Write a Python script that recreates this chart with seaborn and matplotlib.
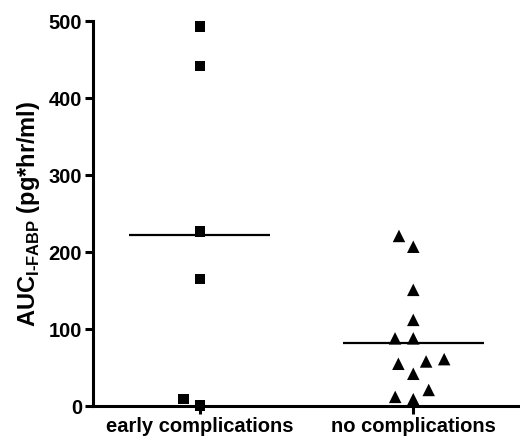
import numpy as np
import pandas as pd
import matplotlib as mpl
mpl.use('Agg')
import matplotlib.pyplot as plt
import seaborn as sns

# values
groups = ['early complications', 'no complications']
early = [493, 442, 227, 165, 1, 9]
no_comp = [221, 207, 151, 112, 88, 88, 61, 55, 58, 42, 21, 12, 9]
group_means = [222, 82]

sns.set_style('ticks')
plt.rcParams['font.family'] = ['Liberation Sans', 'DejaVu Sans']
plt.rcParams['font.weight'] = 'bold'
plt.rcParams['text.color'] = 'black'
plt.rcParams['axes.labelcolor'] = 'black'
plt.rcParams['xtick.color'] = 'black'
plt.rcParams['ytick.color'] = 'black'
plt.rcParams['axes.edgecolor'] = 'black'
plt.rcParams['mathtext.fontset'] = 'custom'
plt.rcParams['mathtext.rm'] = 'Liberation Sans:bold'
plt.rcParams['mathtext.bf'] = 'Liberation Sans:bold'

Data = pd.DataFrame({
    'group': [groups[0]] * len(early) + [groups[1]] * len(no_comp),
    'auc': early + no_comp,
})

fig = plt.figure(figsize=(5.2, 4.4), dpi=100)
ax = fig.add_axes([0.179, 0.077, 0.821, 0.875])

# extra invisible edge widens the swarm spacing like the original
sns.swarmplot(x='group', y='auc', data=Data[Data.group == groups[0]], order=groups,
              marker='s', color='black', size=7.5, linewidth=4.5, edgecolor='none', ax=ax)
sns.swarmplot(x='group', y='auc', data=Data[Data.group == groups[1]], order=groups,
              marker='^', color='black', size=9, linewidth=3.5, edgecolor='none', ax=ax)
for c in ax.collections:
    if len(c.get_offsets()) > 0:
        c.set_clip_on(False)

for i, m in enumerate(group_means):
    ax.hlines(m, i - 0.33, i + 0.33, color='black', lw=1.6)

ax.set_xlim(-0.5, 1.5)
ax.set_ylim(0, 500)
ax.set_yticks([0, 100, 200, 300, 400, 500])
ax.set_xlabel('')
ax.set_ylabel(r'AUC$_{\mathrm{I}\text{-}\mathrm{FABP}}$ (pg*hr/ml)', fontsize=17, fontweight='bold', labelpad=5)
for s in ['top', 'right']:
    ax.spines[s].set_visible(False)
for s in ['left', 'bottom']:
    ax.spines[s].set_linewidth(2.2)
ax.tick_params(width=2.2, length=6, pad=2)
ax.tick_params(axis='y', labelsize=14.5)
ax.tick_params(axis='x', labelsize=14.5)
for t in ax.get_xticklabels() + ax.get_yticklabels():
    t.set_fontweight('bold')

plt.savefig('out.png', dpi=100)
plt.close()
